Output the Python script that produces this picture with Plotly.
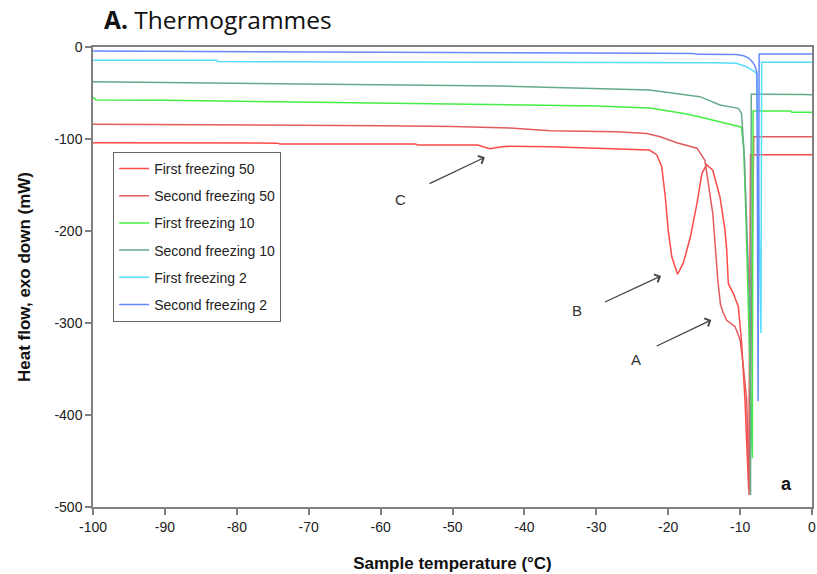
import plotly.graph_objects as go

# ---------------- data ----------------
series_names = ["First freezing 50", "Second freezing 50", "First freezing 10",
                "Second freezing 10", "First freezing 2", "Second freezing 2"]
series_colors = ["#ff4a4a", "#e25c5c", "#44ee44", "#66aa88", "#55ddff", "#6688ff"]

t_first50 = [-100, -74.4, -74.0, -55.2, -54.8, -46.5, -45.5, -44.8, -44.0, -42.5, -36.4, -22.6, -21.6,
             -20.9, -20.4, -20.0, -19.5, -18.7, -17.9, -16.9, -16.0, -15.3, -14.65, -13.8, -12.8,
             -12.1, -11.86, -11.64, -10.94, -10.25, -9.78, -9.32, -9.04, -8.8, -8.55, 0]
h_first50 = [-104, -104.5, -105.5, -105.5, -106.5, -106.5, -109, -110.5, -109.5, -108, -108.4, -112, -117,
             -130, -163, -199, -228, -247, -235, -206, -170, -137, -128, -134, -163,
             -199, -221, -257, -268, -282, -322, -384, -438, -482, -117, -117]

t_second50 = [-100, -75, -60, -50, -42, -36.4, -27.2, -23, -21.1, -18.8, -16.0, -14.9, -13.8, -13.1,
              -12.73, -12.34, -11.86, -10.7, -10.0, -9.55, -9.08, -8.9, -8.76, -8.1, 0]
h_second50 = [-84, -84.5, -85.5, -86.5, -88, -91, -92, -94, -97.5, -104, -110, -123, -181, -253,
              -280, -289, -297, -304, -318, -347, -384, -438, -487, -97.5, -97.5]

t_first10 = [-100, -99.6, -90, -70, -50, -30, -22.6, -18, -15.6, -12.5, -10.0, -9.8, -9.5, -9.2,
             -8.9, -8.5, -8.3, -8.2, -3.0, -2.8, 0]
h_first10 = [-54.5, -57.5, -58, -60, -62, -64, -66.3, -72, -76, -82, -86.6, -88, -110, -180,
             -280, -400, -447, -69.6, -69.6, -71, -71]

t_second10 = [-100, -71, -43.4, -22.6, -15.6, -12.8, -10.25, -9.8, -9.4, -9.2, -8.6, -8.55, -8.45, -1, 0]
h_second10 = [-37.7, -40, -42.4, -46.7, -54, -63, -66.7, -72, -120, -166, -300, -487, -51.4, -51.5, -52]

t_first2 = [-100, -82.8, -82.6, -22, -13.5, -10.5, -9.1, -8.2, -7.7, -7.1, -7.0, 0]
h_first2 = [-14.5, -14.5, -15.8, -16.5, -17.2, -17.7, -21.4, -25.7, -28.6, -311, -16.6, -16.6]

t_second2 = [-100, -70, -40, -22, -16.5, -16.0, -10.5, -9.5, -8.8, -8.3, -7.9, -7.65, -7.5, -7.35, 0]
h_second2 = [-4.3, -5, -6, -6.9, -7.2, -8, -8.2, -9.5, -12, -16, -21, -28, -385, -7.6, -7.6]

x_ticks = [-100, -90, -80, -70, -60, -50, -40, -30, -20, -10, 0]
x_tick_labels = ["-100", "-90", "-80", "-70", "-60", "-50", "-40", "-30", "-20", "-10", "0"]
y_ticks = [-500, -400, -300, -200, -100, 0]
y_tick_labels = ["-500", "-400", "-300", "-200", "-100", "0"]

# ---------------- figure ----------------
xs = [t_first50, t_second50, t_first10, t_second10, t_first2, t_second2]
ys = [h_first50, h_second50, h_first10, h_second10, h_first2, h_second2]

fig = go.Figure()
for name, col, x, y in zip(series_names, series_colors, xs, ys):
    fig.add_trace(go.Scatter(x=x, y=y, mode="lines", name=name, legendgroup=name,
                             line=dict(color=col, width=1.5)))

axis_common = dict(showgrid=False, zeroline=False, showline=True, linecolor="#808080",
                   linewidth=1.5, mirror=True, ticks="outside", ticklen=6, tickcolor="#808080",
                   tickwidth=1.5, automargin=False,
                   tickfont=dict(family="Liberation Sans, Arial", size=14, color="#222"))

fig.update_xaxes(range=[-100, 0], tickvals=x_ticks, ticktext=x_tick_labels,
                 title=dict(text="<b>Sample temperature (°C)</b>", standoff=24,
                            font=dict(family="Liberation Sans, Arial", size=17, color="#111")),
                 **axis_common)
fig.update_yaxes(range=[-500, 0], tickvals=y_ticks, ticktext=y_tick_labels,
                 title=dict(text="<b>Heat flow, exo down (mW)</b>", standoff=19,
                            font=dict(family="Liberation Sans, Arial", size=17, color="#111")),
                 **axis_common)

annots = [
    dict(x=-57.2, y=-165.5, text="C"),
    dict(x=-32.7, y=-285.9, text="B"),
    dict(x=-24.5, y=-339.5, text="A"),
]
for a in annots:
    fig.add_annotation(x=a["x"], y=a["y"], text=a["text"], showarrow=False,
                       font=dict(family="Liberation Sans, Arial", size=15, color="#333"))

arrows = [
    ((-53.4, -149.2), (-45.5, -119.9)),
    ((-29.0, -277.9), (-21.0, -248.9)),
    ((-21.8, -325.8), (-14.0, -296.7)),
]
for tail, head in arrows:
    fig.add_annotation(x=head[0], y=head[1], ax=tail[0], ay=tail[1], axref="x", ayref="y",
                       xref="x", yref="y", text="", showarrow=True, arrowhead=4,
                       arrowsize=1.3, arrowwidth=1.3, arrowcolor="#444")

fig.add_annotation(x=-3.6, y=-475, text="<b>a</b>", showarrow=False,
                   font=dict(family="Liberation Sans, Arial", size=18, color="#111"))

W, H = 817, 574
fig.update_layout(
    width=W, height=H,
    margin=dict(l=93, r=5, t=47, b=67, autoexpand=False),
    paper_bgcolor="white", plot_bgcolor="white",
    title=dict(text="<b>A.</b> Thermogrammes", x=104 / W, xref="container", xanchor="left",
               y=1 - 20 / H, yref="container", yanchor="middle", automargin=False,
               font=dict(family="Open Sans", size=24.5, color="#111")),
    legend=dict(x=0.028, y=0.772, xanchor="left", yanchor="top", bgcolor="white",
                bordercolor="#666", borderwidth=1, tracegroupgap=6, traceorder="grouped",
                font=dict(family="Liberation Sans, Arial", size=14, color="#222")),
    showlegend=True,
)

# remove the default page margin so the figure sits at the window's top-left corner
fig.write_html("out.html", config={"displayModeBar": False},
               post_script="document.body.style.margin='0';")
